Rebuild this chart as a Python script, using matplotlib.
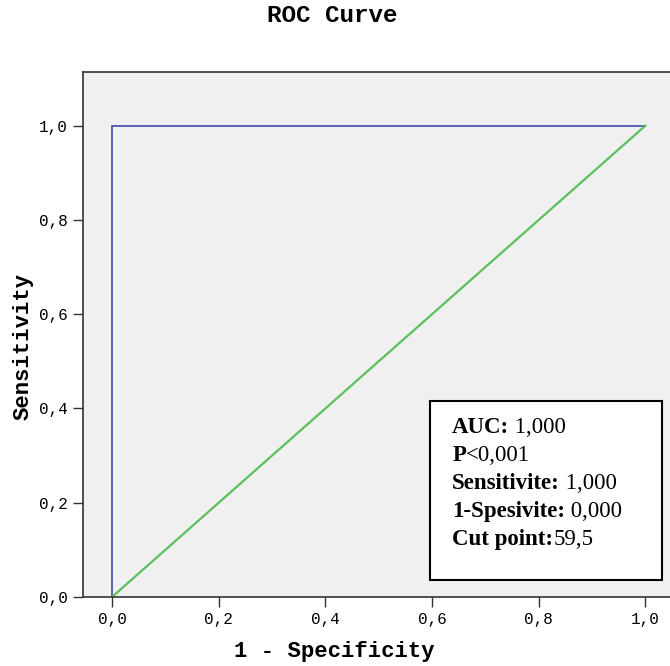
import matplotlib.pyplot as plt
from matplotlib.patches import Rectangle

# ROC points (1 - specificity, sensitivity)
fpr = [0.0, 0.0, 1.0]
tpr = [0.0, 1.0, 1.0]
ref_line = [0.0, 1.0]

ticks = [0.0, 0.2, 0.4, 0.6, 0.8, 1.0]
tick_labels = ['0,0', '0,2', '0,4', '0,6', '0,8', '1,0']

stat_names = ['AUC:', 'P', 'Sensitivite:', '1-Spesivite:', 'Cut point:']
stat_values = [' 1,000', '<0,001', ' 1,000', ' 0,000', '59,5']

mono = 'Liberation Mono'
serif = 'Liberation Serif'

fig = plt.figure(figsize=(6.70, 6.66), dpi=100)
ax = fig.add_axes([83 / 670, 69 / 666, 589 / 670, 525 / 666])
ax.set_facecolor('#f0f0f0')

ax.plot(fpr, tpr, color='#4a58b0', lw=1.3, solid_joinstyle='miter')
ax.plot(ref_line, ref_line, color='#5cbf5c', lw=1.6)

ax.set_xlim(-0.0544, 1.05)
ax.set_ylim(0, 1.114)
ax.set_xticks(ticks)
ax.set_xticklabels(tick_labels, fontfamily=mono, fontsize=11.5)
ax.set_yticks(ticks)
ax.set_yticklabels(tick_labels, fontfamily=mono, fontsize=11.5)
ax.tick_params(direction='out', length=7, width=1, color='#333333', pad=4)

for s in ax.spines.values():
    s.set_color('#333333')
    s.set_linewidth(1.2)
ax.spines['right'].set_visible(False)

ax.set_xlabel('1 - Specificity', fontfamily=mono, fontweight='bold', fontsize=16)
ax.set_ylabel('Sensitivity', fontfamily=mono, fontweight='bold', fontsize=16)
ax.xaxis.set_label_coords(251 / 589, -44 / 525)
ax.yaxis.set_label_coords(-49 / 589, 251 / 525)
fig.text(332 / 670, 1 - 16 / 666, 'ROC Curve', fontfamily=mono, fontweight='bold', fontsize=17.5,
         ha='center', va='center')

# stats box
ax.add_patch(Rectangle((0.597, 0.036), 0.435, 0.380, facecolor='white',
                       edgecolor='black', lw=1.5, zorder=5, clip_on=False))
y0 = 0.348
for i in range(len(stat_names)):
    y = y0 - i * 0.0594
    t = ax.text(0.638, y, stat_names[i], fontfamily=serif, fontweight='bold', fontsize=16.5,
                va='baseline', zorder=6)
    ax.annotate(stat_values[i], xy=(1, 0), xycoords=t, va='bottom', ha='left',
                fontfamily=serif, fontsize=16.5, zorder=6)

plt.savefig('out.png', dpi=100)
